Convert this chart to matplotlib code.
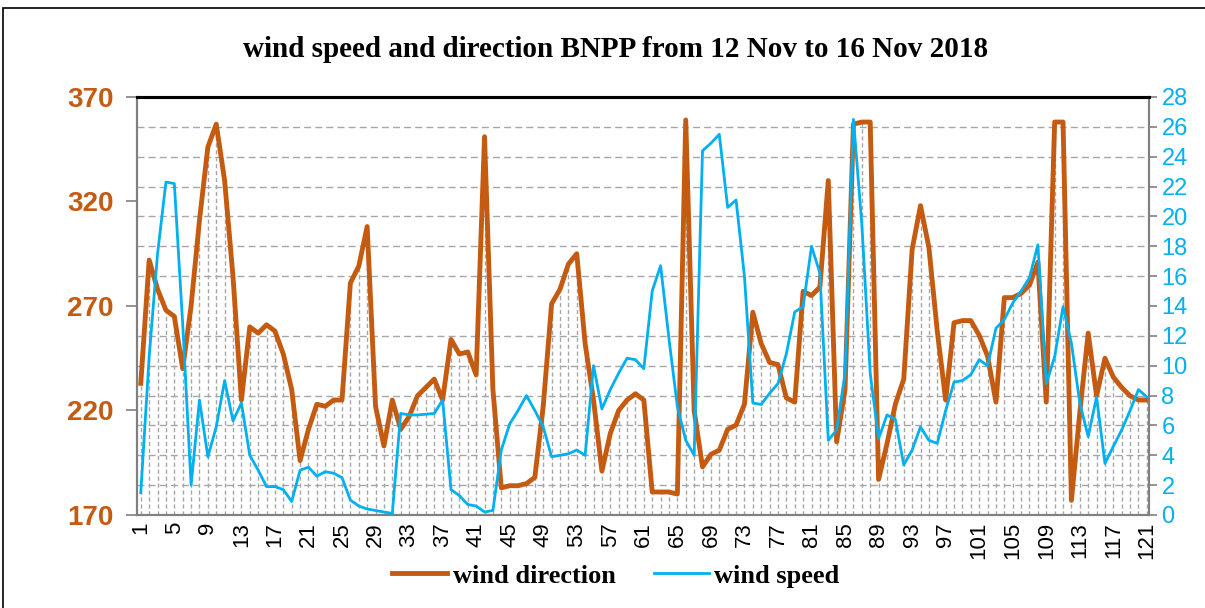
import numpy as np
import matplotlib
matplotlib.use('Agg')
import matplotlib.pyplot as plt
from matplotlib.lines import Line2D
from matplotlib.patches import Rectangle

##categories 1..121 (hourly samples)
sample = list(range(1, 122))

##wind direction (degrees, left axis)
direction = [233, 292, 278, 268, 265, 240, 270, 311, 346, 357,
             330, 284, 225, 260, 257, 261, 258, 247, 230, 196,
             211, 223, 222, 225, 225, 281, 289, 308, 222, 203,
             225, 211, 217, 227, 231, 235, 225, 254, 247, 248,
             237, 351, 230, 183, 184, 184, 185, 188, 222, 271,
             278, 290, 295, 252, 225, 191, 209, 220, 225, 228,
             225, 181, 181, 181, 180, 359, 220, 193, 199, 201,
             211, 213, 223, 267, 252, 243, 242, 226, 224, 277,
             275, 279, 330, 205, 230, 357, 358, 358, 187, 204,
             223, 235, 297, 318, 298, 258, 225, 262, 263, 263,
             256, 246, 224, 274, 274, 276, 280, 291, 224, 358,
             358, 177, 219, 257, 227, 245, 236, 231, 227, 225,
             225]

##wind speed (right axis)
speed = [1.5, 10.6, 17.5, 22.3, 22.2, 12.8, 2.0, 7.7, 3.9, 5.9,
         9.0, 6.3, 7.5, 4.0, 3.0, 1.9, 1.9, 1.7, 0.9, 3.0,
         3.2, 2.6, 2.9, 2.8, 2.5, 1.0, 0.6, 0.4, 0.3, 0.2,
         0.1, 6.8, 6.7, 6.7, 6.75, 6.8, 7.7, 1.7, 1.3, 0.7,
         0.6, 0.2, 0.3, 4.35, 6.1, 7.0, 8.0, 7.0, 5.9, 3.9,
         4.0, 4.1, 4.35, 4.0, 10.0, 7.1, 8.4, 9.5, 10.5, 10.4,
         9.8, 15.0, 16.7, 11.8, 7.25, 5.0, 4.0, 24.4, 24.9, 25.5,
         20.6, 21.1, 16.0, 7.5, 7.4, 8.15, 8.8, 10.8, 13.6, 13.95,
         18.0, 16.2, 5.0, 5.7, 9.5, 26.5, 19.5, 9.5, 5.1, 6.7,
         6.4, 3.35, 4.35, 5.9, 5.0, 4.8, 7.0, 8.9, 9.0, 9.4,
         10.4, 10.0, 12.5, 13.1, 14.2, 15.0, 15.9, 18.1, 8.8, 10.6,
         13.95, 11.5, 7.5, 5.25, 7.9, 3.45, 4.6, 5.7, 7.0, 8.4,
         7.9]

xtick_labels = list(range(1, 122, 4))
dir_ticks = [170, 220, 270, 320, 370]
speed_ticks = list(range(0, 29, 2))

orange = '#C55A11'
blue = '#00B0F0'
serif = 'Liberation Serif'
sans = 'Liberation Sans'

fig = plt.figure(figsize=(12.05, 6.08), dpi=100)
ax = fig.add_axes([0.1137, 0.153, 0.8398, 0.6875])
ax2 = ax.twinx()

##outer chart frame (runs off the right and bottom edges)
top = 1 - 8 / 608
fig.patches.append(Rectangle((3 / 1205, -0.1), 1.2, top + 0.1,
                             transform=fig.transFigure, fill=False, edgecolor='black', lw=1.2))

##drop lines from wind direction to the axis
ax.vlines(sample, 170, direction, colors='#A6A6A6', linestyles=(0, (3, 2)), lw=1.0, zorder=1)
ax.plot(sample, direction, color=orange, lw=3.5, zorder=3, solid_joinstyle='round')
ax2.plot(sample, speed, color=blue, lw=2.0, zorder=3, solid_joinstyle='round')

ax.set_xlim(0.55, 121.25)
ax.set_ylim(170, 370)
ax2.set_ylim(0, 28)

##horizontal gridlines follow the secondary axis (every 2)
ax.set_yticks(dir_ticks)
ax.set_yticks(np.linspace(170, 370, 15), minor=True)
ax.grid(which='minor', axis='y', color='#A6A6A6', linestyle=(0, (5, 3)), lw=1.0, zorder=0)
ax.tick_params(axis='y', which='minor', length=0)
ax.tick_params(axis='y', which='major', length=8, width=1.2, color='#808080', pad=9)
for lbl in ax.get_yticklabels():
    lbl.set_fontfamily(sans)
    lbl.set_fontweight('bold')
    lbl.set_fontsize(20)
    lbl.set_color(orange)

ax2.set_yticks(speed_ticks)
ax2.tick_params(axis='y', length=6, width=1.2, color='#808080', pad=3)
for lbl in ax2.get_yticklabels():
    lbl.set_fontfamily(sans)
    lbl.set_fontsize(17)
    lbl.set_color(blue)

ax.set_xticks(xtick_labels)
ax.set_xticklabels([str(v) for v in xtick_labels], rotation=90, fontfamily=sans, fontsize=16)
ax.tick_params(axis='x', length=0, pad=5)

for a in (ax, ax2):
    for side in ('left', 'right', 'bottom'):
        a.spines[side].set_color('#808080')
        a.spines[side].set_linewidth(1.5)
    a.spines['top'].set_color('black')
    a.spines['top'].set_linewidth(2.2)

fig.text(0.511, 0.918, 'wind speed and direction BNPP from 12 Nov to 16 Nov 2018',
         ha='center', va='center', fontfamily=serif, fontweight='bold', fontsize=21)

handles = [Line2D([], [], color=orange, lw=3.5), Line2D([], [], color=blue, lw=2.0)]
fig.legend(handles, ['wind direction', 'wind speed'], loc='center', bbox_to_anchor=(0.511, 0.053),
           ncol=2, frameon=False, handlelength=2.1, handletextpad=0.2, columnspacing=1.45,
           prop={'family': serif, 'weight': 'bold', 'size': 19})

fig.savefig('out.png', dpi=100)
